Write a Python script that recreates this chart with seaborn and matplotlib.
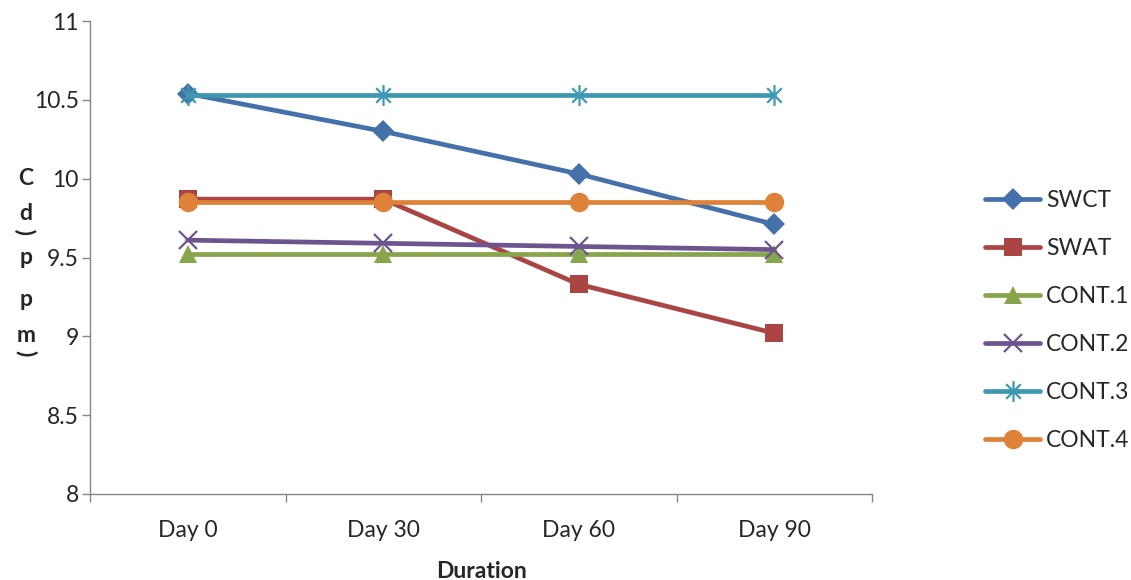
import matplotlib
matplotlib.use("Agg")
import matplotlib.pyplot as plt
import numpy as np
import pandas as pd
import seaborn as sns
from matplotlib.path import Path

days = ["Day 0", "Day 30", "Day 60", "Day 90"]
series_names = ["SWCT", "SWAT", "CONT.1", "CONT.2", "CONT.3", "CONT.4"]
swct = [10.54, 10.30, 10.03, 9.71]
swat = [9.87, 9.87, 9.33, 9.02]
cont1 = [9.52, 9.52, 9.52, 9.52]
cont2 = [9.61, 9.59, 9.57, 9.55]
cont3 = [10.53, 10.53, 10.53, 10.53]
cont4 = [9.85, 9.85, 9.85, 9.85]
y_ticks = [8, 8.5, 9, 9.5, 10, 10.5, 11]
y_tick_labels = ["8", "8.5", "9", "9.5", "10", "10.5", "11"]

sns.set_theme(style="white")
plt.rcParams["font.family"] = ["Lato", "DejaVu Sans"]

colors = ["#4471a9", "#aa4543", "#87a54a", "#6e548f", "#3e98b1", "#dd8238"]

# asterisk marker: an x with a vertical stroke
asterisk = Path(
    [(-0.7, -0.7), (0.7, 0.7), (-0.7, 0.7), (0.7, -0.7), (0, -1), (0, 1)],
    [Path.MOVETO, Path.LINETO, Path.MOVETO, Path.LINETO, Path.MOVETO, Path.LINETO],
)
markers = ["D", "s", "^", "x", asterisk, "o"]
msizes = [11, 13, 13, 13, 15, 14]
medge = [0, 0, 0, 1.6, 1.6, 0]

df = pd.DataFrame({
    "Duration": days * len(series_names),
    "pos": list(range(len(days))) * len(series_names),
    "value": swct + swat + cont1 + cont2 + cont3 + cont4,
    "series": np.repeat(series_names, len(days)),
})

FS = 16.5

fig = plt.figure(figsize=(11.31, 5.80), dpi=100)
ax = fig.add_axes([90 / 1131, 1 - 494 / 580, (872 - 90) / 1131, (494 - 21) / 580])

for i, name in enumerate(series_names):
    sub = df[df["series"] == name]
    sns.lineplot(
        data=sub, x="pos", y="value", ax=ax, color=colors[i], linewidth=3.4,
        marker=markers[i], markersize=msizes[i], markeredgewidth=medge[i],
        markeredgecolor=colors[i], markerfacecolor=colors[i],
        label=name, sort=False, zorder=3 + i,
    )

ax.set_xlim(-0.5, len(days) - 0.5)
ax.set_ylim(8, 11)
ax.set_yticks(y_ticks)
ax.set_yticklabels(y_tick_labels, fontsize=FS)
ax.set_xticks(np.arange(-0.5, len(days), 1.0))
ax.set_xticklabels([])
ax.set_xticks(range(len(days)), minor=True)
ax.set_xticklabels(days, minor=True, fontsize=FS)
ax.tick_params(axis="x", which="major", direction="out", length=6, width=1,
               color="#868686", bottom=True)
ax.tick_params(axis="x", which="minor", length=0, pad=19)
ax.tick_params(axis="y", direction="out", length=6, width=1, color="#868686",
               left=True, pad=2)
for side in ["top", "right"]:
    ax.spines[side].set_visible(False)
for side in ["left", "bottom"]:
    ax.spines[side].set_color("#868686")
    ax.spines[side].set_linewidth(1)
ax.grid(False)

ax.set_xlabel("Duration", fontsize=FS, fontweight="bold", labelpad=14)
ax.set_ylabel("")

# stacked y-axis title
label_chars = [("C", 0, 178), ("d", 0, 214), ("(", 90, 232), ("p", 0, 258),
               ("p", 0, 299), ("m", 0, 336), (")", -90, 353)]
for ch, rot, ypix in label_chars:
    fig.text(26 / 1131, 1 - ypix / 580, ch, fontsize=FS, fontweight="bold",
             rotation=rot, ha="center", va="center")

leg = ax.legend(loc="upper left", bbox_to_anchor=(985 / 1131, 1 - 190 / 580),
                bbox_transform=fig.transFigure, frameon=False, fontsize=FS,
                handlelength=2.4, handletextpad=0.25, labelspacing=1.18,
                borderaxespad=0, borderpad=0)

fig.savefig("out.png", dpi=100)
